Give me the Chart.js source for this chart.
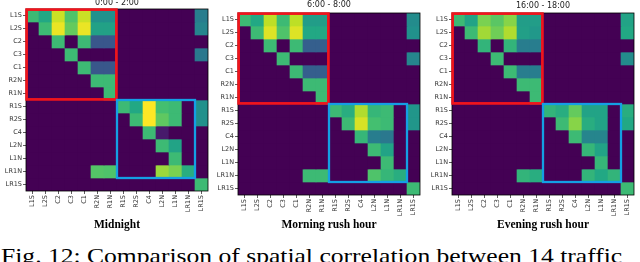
<!DOCTYPE html>
<html>
<head>
<meta charset="utf-8">
<script src="https://cdn.jsdelivr.net/npm/chart.js@4.4.1/dist/chart.umd.min.js"></script>
<style>
  body { margin: 0; width: 640px; height: 262px; background: #fff; position: relative; overflow: hidden; }
  canvas { position: absolute; top: 0; }
  .title { position: absolute; width: 120px; font: 8px 'DejaVu Sans'; color: #222; text-align: center; line-height: 8px; white-space: nowrap; }
  .caption { position: absolute; width: 160px; font: bold 11.5px 'Liberation Serif'; color: #000; text-align: center; line-height: 12px; white-space: nowrap; }
  .fig { position: absolute; left: 1px; top: 245px; font: 21.5px 'Liberation Serif'; line-height: 22px; white-space: nowrap; color: #000; transform: scaleX(1.19); transform-origin: 0 0; }
</style>
</head>
<body>
<div class="fig">Fig. 12: Comparison of spatial correlation between 14 traffic</div>
<script>
const labels = ['L1S', 'L2S', 'C2', 'C3', 'C1', 'R2N', 'R1N', 'R1S', 'R2S', 'C4', 'L2N', 'L1N', 'LR1N', 'LR1S']
const titles = ['0:00 - 2:00', '6:00 - 8:00', '16:00 - 18:00']
const captions = ['Midnight', 'Morning rush hour', 'Evening rush hour']

// correlation, rows top to bottom, columns left to right
const midnight = [
  [0.68, 0.6, 0.92, 0.72, 0.92, 0.5, 0.5, 0, 0, 0, 0, 0, 0, 0.42],
  [0, 0.68, 0.97, 0.76, 0.97, 0.57, 0.57, 0, 0, 0, 0, 0, 0, 0.45],
  [0, 0, 0.68, 0, 0.68, 0.27, 0.27, 0, 0, 0, 0, 0, 0, 0],
  [0, 0, 0, 0.68, 0, 0, 0, 0, 0, 0, 0, 0, 0, 0.4],
  [0, 0, 0, 0, 0.68, 0.27, 0.27, 0, 0, 0, 0, 0, 0, 0],
  [0, 0, 0, 0, 0, 0.68, 0.68, 0, 0, 0, 0, 0, 0, 0],
  [0, 0, 0, 0, 0, 0, 0.68, 0, 0, 0, 0, 0, 0, 0],
  [0, 0, 0, 0, 0, 0, 0, 0.68, 0.6, 1, 0.7, 0.68, 0, 0.5],
  [0, 0, 0, 0, 0, 0, 0, 0, 0.68, 1, 0.75, 0.68, 0, 0.5],
  [0, 0, 0, 0, 0, 0, 0, 0, 0, 0.68, 0.07, 0, 0, 0],
  [0, 0, 0, 0, 0, 0, 0, 0, 0, 0, 0.68, 0.58, 0, 0],
  [0, 0, 0, 0, 0, 0, 0, 0, 0, 0, 0, 0.68, 0, 0],
  [0, 0, 0, 0, 0, 0.73, 0.72, 0, 0, 0, 0.85, 0.8, 0.62, 0],
  [0, 0, 0, 0, 0, 0, 0, 0, 0, 0, 0, 0, 0, 0.68],
]
const morning = [
  [0.68, 0.6, 0.9, 0.68, 0.9, 0.55, 0.55, 0, 0, 0, 0, 0, 0, 0.48],
  [0, 0.68, 0.95, 0.72, 0.95, 0.6, 0.6, 0, 0, 0, 0, 0, 0, 0.5],
  [0, 0, 0.68, 0, 0.68, 0.3, 0.3, 0, 0, 0, 0, 0, 0, 0],
  [0, 0, 0, 0.68, 0, 0, 0, 0, 0, 0, 0, 0, 0, 0.45],
  [0, 0, 0, 0, 0.68, 0.3, 0.3, 0, 0, 0, 0, 0, 0, 0],
  [0, 0, 0, 0, 0, 0.68, 0.68, 0, 0, 0, 0, 0, 0, 0],
  [0, 0, 0, 0, 0, 0, 0.68, 0, 0, 0, 0, 0, 0, 0],
  [0, 0, 0, 0, 0, 0, 0, 0.68, 0.62, 0.88, 0.66, 0.68, 0, 0.52],
  [0, 0, 0, 0, 0, 0, 0, 0, 0.68, 0.94, 0.7, 0.68, 0, 0.52],
  [0, 0, 0, 0, 0, 0, 0, 0, 0, 0.66, 0.42, 0.4, 0, 0],
  [0, 0, 0, 0, 0, 0, 0, 0, 0, 0, 0.68, 0.58, 0, 0],
  [0, 0, 0, 0, 0, 0, 0, 0, 0, 0, 0, 0.68, 0, 0],
  [0, 0, 0, 0, 0, 0.68, 0.68, 0, 0, 0, 0.72, 0.66, 0.62, 0],
  [0, 0, 0, 0, 0, 0, 0, 0, 0, 0, 0, 0, 0, 0.68],
]
const evening = [
  [0.68, 0.58, 0.8, 0.74, 0.82, 0.55, 0.55, 0, 0, 0, 0, 0, 0, 0.58],
  [0, 0.68, 0.86, 0.78, 0.88, 0.56, 0.53, 0, 0, 0, 0, 0, 0, 0.6],
  [0, 0, 0.65, 0, 0.65, 0.42, 0.42, 0, 0, 0, 0, 0, 0, 0],
  [0, 0, 0, 0.68, 0, 0, 0, 0, 0, 0, 0, 0, 0, 0.48],
  [0, 0, 0, 0, 0.68, 0.42, 0.42, 0, 0, 0, 0, 0, 0, 0],
  [0, 0, 0, 0, 0, 0.68, 0.68, 0, 0, 0, 0, 0, 0, 0],
  [0, 0, 0, 0, 0, 0, 0.68, 0, 0, 0, 0, 0, 0, 0],
  [0, 0, 0, 0, 0, 0, 0, 0.65, 0.62, 0.76, 0.58, 0.58, 0, 0.62],
  [0, 0, 0, 0, 0, 0, 0, 0, 0.68, 0.82, 0.62, 0.58, 0, 0.6],
  [0, 0, 0, 0, 0, 0, 0, 0, 0, 0.68, 0.45, 0.45, 0, 0],
  [0, 0, 0, 0, 0, 0, 0, 0, 0, 0, 0.66, 0.58, 0, 0],
  [0, 0, 0, 0, 0, 0, 0, 0, 0, 0, 0, 0.66, 0, 0],
  [0, 0, 0, 0, 0, 0.65, 0.62, 0, 0, 0, 0.65, 0.6, 0.65, 0],
  [0, 0, 0, 0, 0, 0, 0, 0, 0, 0, 0, 0, 0, 0.68],
]

// plot areas on the page
const areas = [
  { x: 26, y: 9, w: 182, h: 182, ty: -1, cy: 218 },
  { x: 238, y: 13, w: 182, h: 182, ty: 1, cy: 218 },
  { x: 452, y: 13, w: 182, h: 182, ty: 2, cy: 218 },
]

const stops = ['#440154', '#482475', '#414487', '#355f8d', '#2a788e', '#21918c', '#22a884', '#44bf70', '#7ad151', '#bddf26', '#fde725']
const hex = (s) => [1, 3, 5].map((i) => parseInt(s.slice(i, i + 2), 16))
const viridis = function (v) {
  const t = Math.max(0, Math.min(1, v)) * 10
  const i = Math.min(9, Math.floor(t))
  const a = hex(stops[i])
  const b = hex(stops[i + 1])
  const f = t - i
  const c = a.map((n, k) => Math.round(n + (b[k] - n) * f))
  return `rgb(${c[0]},${c[1]},${c[2]})`
}

const boxes = {
  id: 'boxes',
  afterDatasetsDraw(chart) {
    const { ctx, chartArea: a, scales: { x, y } } = chart
    const cw = x.getPixelForValue(1) - x.getPixelForValue(0)
    const bx = (c) => x.getPixelForValue(c) - cw / 2
    ctx.save()
    ctx.strokeStyle = '#000'
    ctx.lineWidth = 0.8
    ctx.strokeRect(a.left, a.top, a.right - a.left, a.bottom - a.top)
    ctx.strokeStyle = '#f0141c'
    ctx.lineWidth = 2.7
    ctx.strokeRect(bx(0) + 0.6, y.getPixelForValue(0) + 0.6, bx(7) - bx(0) - 1.2, y.getPixelForValue(7) - y.getPixelForValue(0) - 1.2)
    ctx.strokeStyle = '#149fe4'
    ctx.lineWidth = 2.3
    ctx.strokeRect(bx(7), y.getPixelForValue(7), bx(13) - bx(7), y.getPixelForValue(13) - y.getPixelForValue(7))
    ctx.restore()
  },
}

const tickFont = { family: 'DejaVu Sans', size: 6.5 }

const makeChart = function (i, matrix) {
  const box = areas[i]
  const yW = 26
  const xH = 30
  const w = box.w + yW + 4
  const h = 226
  const cv = document.createElement('canvas')
  cv.width = w
  cv.height = h
  cv.style.left = box.x - yW + 'px'
  cv.style.width = w + 'px'
  cv.style.height = h + 'px'
  document.body.appendChild(cv)

  new Chart(cv, {
    type: 'bar',
    data: {
      labels,
      datasets: matrix.map((row) => ({
        data: row.map(() => 1),
        backgroundColor: row.map(viridis),
        borderWidth: 0,
        barPercentage: 1,
        categoryPercentage: 1,
      })),
    },
    options: {
      responsive: false,
      animation: false,
      devicePixelRatio: 1,
      layout: { padding: { left: 0, top: box.y, right: 4, bottom: h - box.y - box.h - xH } },
      plugins: { legend: { display: false }, tooltip: { enabled: false } },
      scales: {
        x: {
          stacked: true,
          afterFit: (axis) => { axis.height = xH },
          grid: { offset: false, drawOnChartArea: false, tickLength: 3, color: '#333', lineWidth: 0.8 },
          border: { display: false },
          ticks: { minRotation: 90, maxRotation: 90, autoSkip: false, padding: 1, font: tickFont, color: '#333' },
        },
        y: {
          stacked: true,
          min: 0,
          max: 14,
          reverse: true,
          afterFit: (axis) => { axis.width = yW },
          afterBuildTicks: (axis) => {
            axis.ticks = labels.map((_, k) => ({ value: k + 0.5 }))
          },
          grid: { drawOnChartArea: false, tickLength: 3, color: '#333', lineWidth: 0.8 },
          border: { display: false },
          ticks: { callback: (v) => labels[Math.floor(v)], padding: 1, font: tickFont, color: '#333' },
        },
      },
    },
    plugins: [boxes],
  })

  const t = document.createElement('div')
  t.className = 'title'
  t.textContent = titles[i]
  t.style.left = box.x + box.w / 2 - 60 + 'px'
  t.style.top = box.ty + 'px'
  document.body.appendChild(t)

  const c = document.createElement('div')
  c.className = 'caption'
  c.textContent = captions[i]
  c.style.left = box.x + box.w / 2 - 80 + 'px'
  c.style.top = box.cy + 'px'
  document.body.appendChild(c)
}

makeChart(0, midnight)
makeChart(1, morning)
makeChart(2, evening)
</script>
</body>
</html>
